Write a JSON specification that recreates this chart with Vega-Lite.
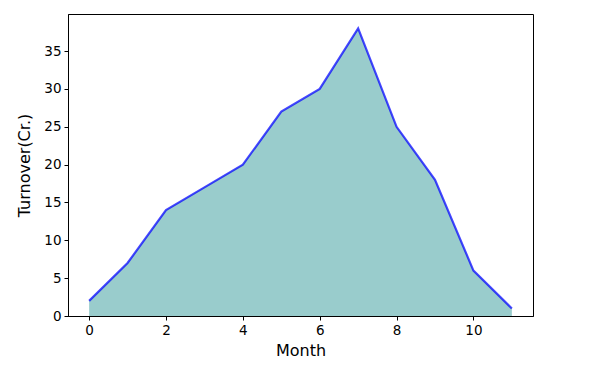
{
  "$schema": "https://vega.github.io/schema/vega-lite/v6.json",
  "width": 465,
  "height": 302,
  "autosize": {"type": "none"},
  "padding": {"left": 68, "top": 14, "right": 59, "bottom": 56},
  "background": "white",
  "config": {
    "view": {"stroke": "black", "strokeWidth": 1},
    "axis": {
      "grid": false,
      "domainColor": "black",
      "tickColor": "black",
      "tickSize": 4,
      "labelPadding": 3,
      "labelFont": "DejaVu Sans",
      "labelFontSize": 13.5,
      "labelColor": "black",
      "titleFont": "DejaVu Sans",
      "titleFontSize": 16,
      "titleFontWeight": "normal",
      "titleColor": "black"
    }
  },
  "data": {
    "values": [
      {"month": 0, "turnover": 2},
      {"month": 1, "turnover": 7},
      {"month": 2, "turnover": 14},
      {"month": 3, "turnover": 17},
      {"month": 4, "turnover": 20},
      {"month": 5, "turnover": 27},
      {"month": 6, "turnover": 30},
      {"month": 7, "turnover": 38},
      {"month": 8, "turnover": 25},
      {"month": 9, "turnover": 18},
      {"month": 10, "turnover": 6},
      {"month": 11, "turnover": 1}
    ]
  },
  "encoding": {
    "x": {
      "field": "month",
      "type": "quantitative",
      "scale": {"domain": [-0.55, 11.55], "nice": false, "zero": false},
      "axis": {"values": [0, 2, 4, 6, 8, 10], "title": "Month", "titlePadding": 6}
    },
    "y": {
      "field": "turnover",
      "type": "quantitative",
      "scale": {"domain": [0, 39.9], "nice": false},
      "axis": {"values": [0, 5, 10, 15, 20, 25, 30, 35], "title": "Turnover(Cr.)", "titlePadding": 11}
    }
  },
  "layer": [
    {"mark": {"type": "area", "color": "#008080", "opacity": 0.4}},
    {"mark": {"type": "line", "color": "#0000ff", "opacity": 0.72, "strokeWidth": 2.2}}
  ]
}
